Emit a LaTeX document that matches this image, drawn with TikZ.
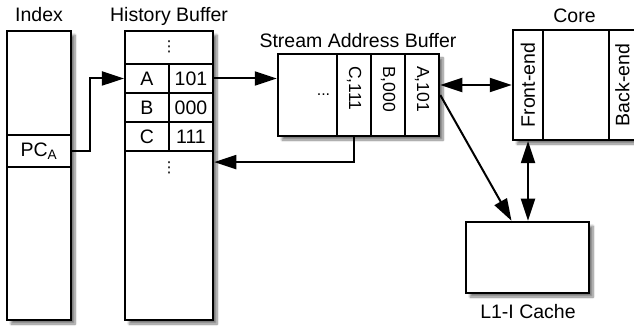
\documentclass[tikz,border=0pt]{standalone}
\usepackage{fontspec}
\setmainfont{Liberation Sans}
\newfontfamily\symfont{DejaVu Sans}
\usetikzlibrary{positioning, calc}
\usetikzlibrary{arrows.meta}
\usetikzlibrary{shadows.blur}

\tikzset{
    blk/.style={draw, line width=2.5pt, fill=white, inner sep=0pt,
        blur shadow={shadow xshift=4pt, shadow yshift=-4pt, shadow blur steps=8, shadow opacity=50}},
    cellbox/.style={draw, line width=2.2pt, inner sep=0pt, font=\fontsize{19.5}{22}\selectfont},
    ttl/.style={inner sep=0pt, anchor=base, font=\fontsize{19.5}{22}\selectfont},
    vlab/.style={inner sep=0pt, font=\fontsize{17.5}{20}\selectfont},
    dotsym/.style={inner sep=0pt, font=\symfont\fontsize{15}{15}\selectfont},
    conn/.style={line width=2pt, -{Triangle[length=22pt, width=14pt]}},
    dconn/.style={line width=2pt, {Triangle[length=22pt, width=14pt]}-{Triangle[length=22pt, width=14pt]}}
}

\begin{document}
\begin{tikzpicture}[x=1pt, y=-1pt]
    \useasboundingbox (0,0) rectangle (634,331);

    % index table
    \node[blk, minimum width=64pt, minimum height=289pt] (idx) at (39,175.5) {};
    \node[ttl] (idxT) at (39,22) {Index};
    \node[cellbox, minimum width=64pt, minimum height=32pt] (pca) at (39,151) {PC\textsubscript{A}};

    % history buffer
    \node[blk, minimum width=88pt, minimum height=289pt] (hist) at (169,175.5) {};
    \node[ttl] (histT) at (169,22) {History Buffer};
    \node[dotsym] (htop) at (169,47) {⋮};
    \node[cellbox, minimum width=44pt, minimum height=29pt] (keyA) at (147,78.5) {A};
    \node[cellbox, minimum width=44pt, minimum height=29pt] (valA) at (191,78.5) {101};
    \node[cellbox, minimum width=44pt, minimum height=29pt] (keyB) at (147,107.5) {B};
    \node[cellbox, minimum width=44pt, minimum height=29pt] (valB) at (191,107.5) {000};
    \node[cellbox, minimum width=44pt, minimum height=29pt] (keyC) at (147,136.5) {C};
    \node[cellbox, minimum width=44pt, minimum height=29pt] (valC) at (191,136.5) {111};
    \node[dotsym] (hbot) at (169,168) {⋮};

    % stream address buffer
    \node[blk, minimum width=161pt, minimum height=82pt] (sab) at (358.5,95) {};
    \node[ttl] (sabT) at (358,48) {Stream Address Buffer};
    \node[inner sep=0pt, anchor=base, font=\fontsize{16}{16}\selectfont] (sabdots) at (323.5,96) {...};
    \node[cellbox, minimum width=34pt, minimum height=82pt] (sabC) at (354,95) {};
    \node[cellbox, minimum width=34pt, minimum height=82pt] (sabB) at (388,95) {};
    \node[cellbox, minimum width=34pt, minimum height=82pt] (sabA) at (422,95) {};
    \node[vlab, anchor=west, rotate=-90] (labC) at ([yshift=-13pt]sabC.north) {C,111};
    \node[vlab, anchor=west, rotate=-90] (labB) at ([yshift=-13pt]sabB.north) {B,000};
    \node[vlab, anchor=west, rotate=-90] (labA) at ([yshift=-13pt]sabA.north) {A,101};

    % core
    \node[blk, minimum width=123pt, minimum height=110pt] (core) at (574.5,85) {};
    \node[ttl] (coreT) at (574.5,23) {Core};
    \node[cellbox, minimum width=30pt, minimum height=110pt] (front) at (528,85) {};
    \node[cellbox, minimum width=27pt, minimum height=110pt] (back) at (622.5,85) {};
    \node[inner sep=0pt, rotate=90, font=\fontsize{19.5}{22}\selectfont] (frontT) at (front) {Front-end};
    \node[inner sep=0pt, rotate=90, font=\fontsize{19.5}{22}\selectfont] (backT) at (back) {Back-end};

    % l1 cache
    \node[blk, minimum width=123pt, minimum height=71pt] (l1) at (527.5,257.5) {};
    \node[ttl] (l1T) at (528,318) {L1-I Cache};

    % connectors
    \draw[conn] (pca.east) -- ++(18,0) |- (keyA.west);
    \draw[conn] (valA.east) -- (valA.east -| sab.west);
    \coordinate (rc) at ([yshift=-25pt]sabC.south);
    \draw[conn] (sabC.south) -- (rc) -- (rc -| hist.east);
    \draw[dconn] (core.west -| sab.east) -- (core.west);
    \draw[conn] (sab.east) -- ($(l1.north)+(-16,0)$);
    \draw[dconn] (front.south) -- (front.south |- l1.north);
\end{tikzpicture}
\end{document}
